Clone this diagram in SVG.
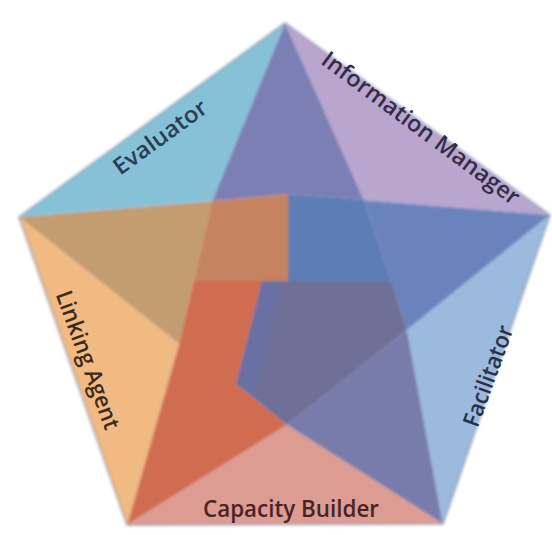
<svg xmlns="http://www.w3.org/2000/svg" width="552" height="535" viewBox="0 0 552 535">
<defs>
<filter id="soft" x="-5%" y="-5%" width="110%" height="110%"><feGaussianBlur stdDeviation="1.6"/></filter>
</defs>
<style>
.lbl{font-family:"Open Sans","Liberation Sans",sans-serif;font-size:23px;font-weight:600;text-anchor:middle}
</style>
<rect width="552" height="535" fill="#ffffff"/>
<g id="shapes" filter="url(#soft)">
<g id="overlaps">
<polygon points="285,23 364,200 288,194 212,201" fill="#7b7fb3"/>
<polygon points="19,217 212,201 194,281 179,344" fill="#c39c70"/>
<polygon points="212,201 288,194 288,281 194,281" fill="#c6835e"/>
<polygon points="288,194 364,200 391,281 288,281" fill="#5b7db5"/>
<polygon points="364,200 550,215 407,330" fill="#6a83bd"/>
<polygon points="407,330 443,524 287,425" fill="#777caa"/>
<polygon points="127,525 179,344 194,281 262,281 236,384 287,425" fill="#d06c4f"/>
<polygon points="262,281 391,281 407,330 287,425 236,384" fill="#6e6f98"/>
<polygon points="262,281 280,281 254,394 236,384" fill="#6870a4"/>
</g>
<polygon id="evaluator-shape" points="285,23 212,201 19,217" fill="#86c1d8"/>
<polygon id="information-manager-shape" points="285,23 550,215 364,200" fill="#b8a6cf"/>
<polygon id="facilitator-shape" points="550,215 443,524 407,330" fill="#9bbade"/>
<polygon id="capacity-builder-shape" points="443,524 127,525 287,425" fill="#dc9c92"/>
<polygon id="linking-agent-shape" points="127,525 19,217 179,344" fill="#f0ba82"/>
<polygon points="285,23 550,215 443,524 127,525 19,217" fill="none" stroke="#8090a8" stroke-width="2" stroke-opacity="0.6"/>
</g>
<g id="connectors"/>
<g id="evaluator"><text class="lbl" fill="#2b3d52" transform="translate(160,137) rotate(-36)" dy="0.35em" textLength="110" lengthAdjust="spacingAndGlyphs">Evaluator</text></g>
<g id="information-manager"><text class="lbl" fill="#352c48" transform="translate(421,128) rotate(36.5)" dy="0.35em" textLength="240" lengthAdjust="spacingAndGlyphs">Information Manager</text></g>
<g id="facilitator"><text class="lbl" fill="#28324a" transform="translate(488,376) rotate(-70)" dy="0.35em" textLength="106" lengthAdjust="spacingAndGlyphs">Facilitator</text></g>
<g id="linking-agent"><text class="lbl" fill="#3c2a1c" transform="translate(88,360) rotate(70)" dy="0.35em" textLength="146" lengthAdjust="spacingAndGlyphs">Linking Agent</text></g>
<g id="capacity-builder"><text class="lbl" fill="#4a2424" transform="translate(291,509)" dy="0.35em" textLength="176" lengthAdjust="spacingAndGlyphs">Capacity Builder</text></g>
</svg>
